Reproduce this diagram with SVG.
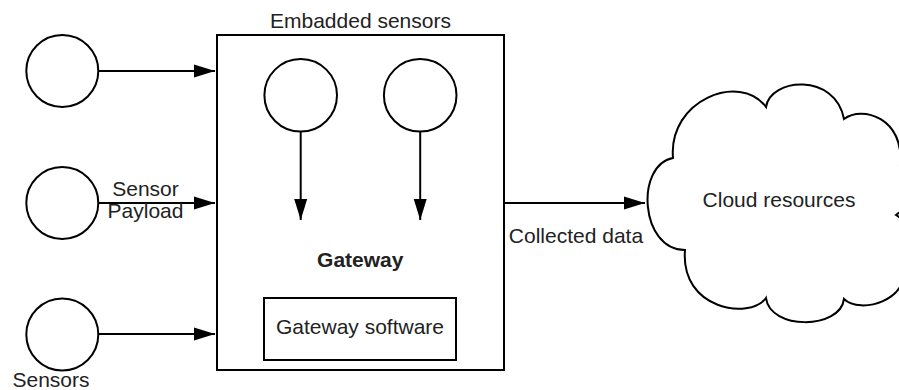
<svg xmlns="http://www.w3.org/2000/svg" width="899" height="390" viewBox="0 0 899 390">
<style>
.s{fill:#fff;stroke:#000;stroke-width:2}
.c{fill:none;stroke:#000;stroke-width:2}
.t{font-family:"Liberation Sans",Arial,sans-serif;font-size:21px;fill:#222;text-anchor:middle}
.b{font-weight:bold}
</style>
<defs>
<marker id="arr" markerWidth="22" markerHeight="14" refX="21" refY="7" orient="auto" markerUnits="userSpaceOnUse">
<path d="M0,0.5 L21,7 L0,13.5 Z" fill="#000"/>
</marker>
</defs>
<rect width="899" height="390" fill="#fff"/>
<g id="gateway">
<rect class="s" x="217" y="35" width="287" height="335"/>
<text class="t" x="360.5" y="28">Embadded sensors</text>
<text class="t b" x="360.3" y="267">Gateway</text>
</g>
<g id="gateway-software">
<rect class="s" x="264" y="298" width="192" height="62"/>
<text class="t" x="360" y="334">Gateway software</text>
</g>
<g id="sensor1"><circle class="s" cx="62.3" cy="71" r="36"/></g>
<g id="sensor2"><circle class="s" cx="62.3" cy="203" r="36"/></g>
<g id="sensor3"><circle class="s" cx="62.3" cy="334.5" r="36"/>
<text class="t" x="51" y="387">Sensors</text></g>
<g id="embedded1"><circle class="s" cx="300.7" cy="95.3" r="36.3"/></g>
<g id="embedded2"><circle class="s" cx="420.2" cy="95.3" r="36.3"/></g>
<g id="cloud">
<path class="s" d="M673,158 C668,100 740,72 766,107 C770,78 835,72 844,119 C862,105 905,118 900,165 C925,170 925,195 896,215 C920,230 925,255 903,265 C912,300 860,315 844,299 C840,330 770,330 766,298 C750,320 680,310 685,250 C640,250 635,165 673,158 Z"/>
<text class="t" x="779" y="207">Cloud resources</text>
</g>
<g id="connectors">
<line class="c" x1="98.3" y1="71" x2="215" y2="71" marker-end="url(#arr)"/>
<line class="c" x1="98.3" y1="203" x2="215" y2="203" marker-end="url(#arr)"/>
<line class="c" x1="98.3" y1="334" x2="215" y2="334" marker-end="url(#arr)"/>
<line class="c" x1="300.7" y1="131.6" x2="300.7" y2="220" marker-end="url(#arr)"/>
<line class="c" x1="420.2" y1="131.6" x2="420.2" y2="220" marker-end="url(#arr)"/>
<line class="c" x1="504" y1="203" x2="645" y2="203" marker-end="url(#arr)"/>
<text class="t" x="145.5" y="196">Sensor</text>
<text class="t" x="145.5" y="218">Payload</text>
<text class="t" x="576" y="243">Collected data</text>
</g>
</svg>
